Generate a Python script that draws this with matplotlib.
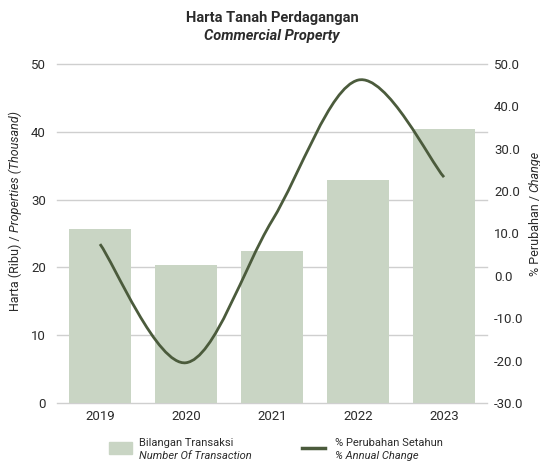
import numpy as np
import matplotlib
matplotlib.use('Agg')
import matplotlib.pyplot as plt
from matplotlib.path import Path
from matplotlib.patches import PathPatch, Rectangle
from matplotlib.lines import Line2D

years = ['2019', '2020', '2021', '2022', '2023']
transactions = [25.7, 20.4, 22.4, 32.9, 40.4]      # thousand properties
annual_change = [7.5, -20.5, 13.0, 46.2, 23.3]     # percent

left_ticks = [0, 10, 20, 30, 40, 50]
right_ticks = [-30, -20, -10, 0, 10, 20, 30, 40, 50]

BAR = '#c9d5c4'
LINE = '#4b5b3c'
GRID = '#cfcfcf'
TXT = '#2b2b2b'

plt.rcParams['font.family'] = ['Roboto', 'DejaVu Sans']
plt.rcParams['text.color'] = TXT


def smooth_path(xs, ys):
    # Catmull-Rom spline through the points, as cubic bezier segments
    pts = np.column_stack([xs, ys]).astype(float)
    n = len(pts)
    verts = [pts[0]]
    codes = [Path.MOVETO]
    for i in range(n - 1):
        p0 = pts[max(i - 1, 0)]
        p1 = pts[i]
        p2 = pts[i + 1]
        p3 = pts[min(i + 2, n - 1)]
        verts += [p1 + (p2 - p0) / 6, p2 - (p3 - p1) / 6, p2]
        codes += [Path.CURVE4] * 3
    return Path(verts, codes)


W, H = 540, 467
fig = plt.figure(figsize=(W / 100, H / 100), dpi=100)
ax = fig.add_axes([57 / W, 1 - 403 / H, 430 / W, 339 / H])
ax2 = ax.twinx()

x = np.arange(len(years))
ax.bar(x, transactions, width=0.72, color=BAR, zorder=2)
ax.set_xlim(-0.5, len(years) - 0.5)
ax.set_ylim(0, 50)
ax.set_yticks(left_ticks)
ax.set_yticklabels([str(t) for t in left_ticks])
ax.set_xticks(x)
ax.set_xticklabels(years)
ax.grid(axis='y', color=GRID, lw=1.0, zorder=0)
for gl in ax.get_ygridlines():
    gl.set_clip_on(False)
ax.set_axisbelow(True)

ax2.add_patch(PathPatch(smooth_path(x, annual_change), fill=False,
                        edgecolor=LINE, lw=2.0, capstyle='butt'))
ax2.set_ylim(-30, 50)
ax2.set_yticks(right_ticks)
ax2.set_yticklabels([f'{t:.1f}' for t in right_ticks])

for a in (ax, ax2):
    for s in a.spines.values():
        s.set_visible(False)
    a.tick_params(length=0, labelsize=9.5, colors=TXT)
ax.tick_params(axis='y', pad=8)
ax.tick_params(axis='x', pad=5)
ax2.tick_params(axis='y', pad=5)

# title
fig.text(272 / W, 1 - 18 / H, 'Harta Tanah Perdagangan', ha='center', va='center',
         fontsize=10.5, fontweight='bold')
fig.text(272 / W, 1 - 36 / H, 'Commercial Property', ha='center', va='center',
         fontsize=10.5, fontweight='bold', style='italic')

renderer = fig.canvas.get_renderer()


def vertical_label(xpx, ycenter, parts):
    texts = []
    for s, st in parts:
        t = fig.text(0, 0, s, rotation=90, ha='center', va='bottom',
                     fontsize=9, style=st, transform=None)
        texts.append((t, t.get_window_extent(renderer).height))
    y0 = ycenter - sum(h for _, h in texts) / 2
    for t, h in texts:
        t.set_position((xpx, y0))
        y0 += h


vertical_label(15, H - 211, [('Harta (Ribu) / ', 'normal'),
                             ('Properties (Thousand)', 'italic')])
vertical_label(535, H - 213, [('% Perubahan / ', 'normal'),
                              ('Change', 'italic')])

# legend
fig.add_artist(Rectangle((109 / W, 1 - 454 / H), 23 / W, 12 / H,
                         transform=fig.transFigure, color=BAR))
fig.text(139 / W, 1 - 443 / H, 'Bilangan Transaksi', va='center', fontsize=8)
fig.text(139 / W, 1 - 456 / H, 'Number Of Transaction', va='center',
         fontsize=8, style='italic')
fig.add_artist(Line2D([302 / W, 325 / W], [1 - 448 / H] * 2,
                      transform=fig.transFigure, color=LINE, lw=2.5))
fig.text(335 / W, 1 - 443 / H, '% Perubahan Setahun', va='center', fontsize=8)
fig.text(335 / W, 1 - 456 / H, '% Annual Change', va='center',
         fontsize=8, style='italic')

fig.savefig('out.png', dpi=100)
